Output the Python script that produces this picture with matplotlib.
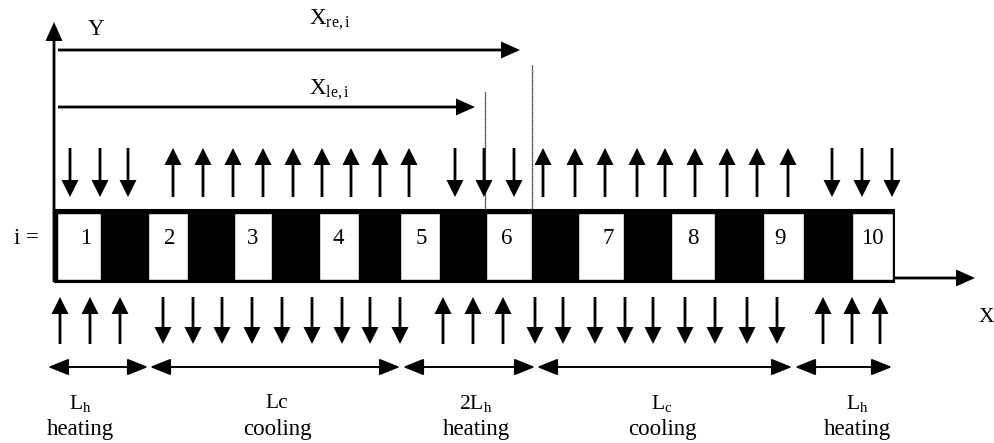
import numpy as np
import matplotlib.pyplot as plt
from matplotlib.patches import Rectangle

plt.rcParams['font.family'] = ['Liberation Serif', 'DejaVu Serif']
plt.rcParams['mathtext.fontset'] = 'custom'
plt.rcParams['mathtext.rm'] = 'Liberation Serif'
plt.rcParams['mathtext.it'] = 'Liberation Serif'

# cells of the strip (white elements), black gaps lie between them
cell_labels = ['1', '2', '3', '4', '5', '6', '7', '8', '9', '10']
cell_left = [57, 148, 234, 319, 400, 486, 578, 671, 763, 852]
cell_right = [101, 188, 272, 359, 440, 532, 624, 715, 804, 893]
cell_label_x = [86, 170, 253, 338, 421, 507, 608, 693, 780, 872]

# heat flux arrows above the strip
top_down_x = [70, 100, 128, 455, 484, 514, 832, 862, 892]
top_up_x = [173, 203, 233, 263, 293, 322, 351, 380, 409,
            543, 575, 605, 637, 665, 695, 727, 757, 788]
# heat flux arrows below the strip
bot_up_x = [60, 90, 120, 443, 473, 503, 823, 852, 880]
bot_down_x = [163, 193, 222, 252, 282, 312, 342, 370, 400,
              535, 563, 595, 625, 653, 685, 715, 747, 777]

# zones under the strip
zone_start = [48, 150, 403, 537, 795]
zone_end = [148, 400, 535, 792, 892]
zone_label_x = [80, 277, 476, 662, 857]
zone_length = [r'L$_\mathrm{h}$', 'Lc', r'2L$_\mathrm{h}$', r'L$_\mathrm{c}$', r'L$_\mathrm{h}$']
zone_kind = ['heating', 'cooling', 'heating', 'cooling', 'heating']

fig = plt.figure(figsize=(9.94, 4.43), dpi=100)
ax = fig.add_axes([0, 0, 1, 1])
ax.set_xlim(0, 994)
ax.set_ylim(443, 0)
ax.axis('off')

fs = 16.5
strip_top, strip_bot = 210, 282

# strip
ax.add_patch(Rectangle((55, strip_top), 839, strip_bot - strip_top,
                       facecolor='black', edgecolor='black', lw=1.5, zorder=1))
for lab, l, r, xl in zip(cell_labels, cell_left, cell_right, cell_label_x):
    ax.add_patch(Rectangle((l, strip_top + 3), r - l, strip_bot - strip_top - 5,
                           facecolor='white', edgecolor='black', lw=1.0, zorder=2))
    ax.text(xl, 238, lab, fontsize=fs, ha='center', va='center', zorder=3)

ax.text(26, 238, 'i =', fontsize=fs, ha='center', va='center')

akw = dict(width=2.8, head_width=17, head_length=17, length_includes_head=True,
           color='black', lw=0)
for x in top_down_x:
    ax.arrow(x, 148, 0, 49, **akw)
for x in top_up_x:
    ax.arrow(x, 197, 0, -49, **akw)
for x in bot_up_x:
    ax.arrow(x, 344, 0, -47, **akw)
for x in bot_down_x:
    ax.arrow(x, 297, 0, 47, **akw)

# axes
axkw = dict(width=2.8, head_width=17, head_length=19, length_includes_head=True,
            color='black', lw=0)
ax.arrow(54, strip_bot, 0, 22 - strip_bot, **axkw)
ax.arrow(894, 278, 975 - 894, 0, **axkw)
ax.text(96, 29, 'Y', fontsize=fs, ha='center', va='center')
ax.text(986, 318, 'X', fontsize=fs - 1, ha='center', va='center')

# positions of left / right edges of element i
ax.arrow(58, 50, 520 - 58, 0, **axkw)
ax.arrow(58, 107, 475 - 58, 0, **axkw)
ax.text(309, 20, r'X$_\mathrm{re,i}$', fontsize=fs, ha='left', va='center')
ax.text(309, 90, r'X$_\mathrm{le,i}$', fontsize=fs, ha='left', va='center')
ax.plot([485, 485], [92, strip_top], color='black', lw=0.9, ls=(0, (1, 0.6)))
ax.plot([532, 532], [65, strip_top], color='black', lw=0.9, ls=(0, (1, 0.6)))

# zone dimension arrows and labels
for s, e, xl, ln, kd in zip(zone_start, zone_end, zone_label_x, zone_length, zone_kind):
    ax.annotate('', xy=(e, 367), xytext=(s, 367),
                arrowprops=dict(arrowstyle='<|-|>,head_length=0.45,head_width=0.18',
                                mutation_scale=28, lw=1.4,
                                color='black', shrinkA=0, shrinkB=0))
    ax.text(xl, 403, ln, fontsize=fs - 1, ha='center', va='center')
    ax.text(xl, 429, kd, fontsize=fs, ha='center', va='center')

fig.savefig('out.png', dpi=100)
